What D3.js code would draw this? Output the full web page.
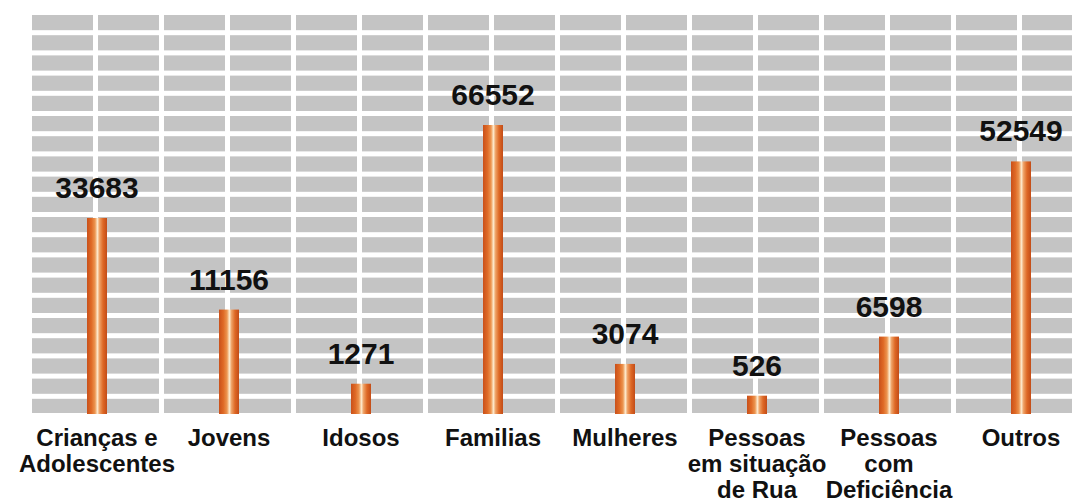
<!DOCTYPE html>
<html>
<head>
<meta charset="utf-8">
<script src="https://cdn.jsdelivr.net/npm/d3@7"></script>
<style>
  body { margin: 0; background: #fff; }
  svg { display: block; }
</style>
</head>
<body>
<script>
let categories = ['Crianças e\nAdolescentes', 'Jovens', 'Idosos', 'Familias', 'Mulheres',
                  'Pessoas\nem situação\nde Rua', 'Pessoas\ncom\nDeficiência', 'Outros'];
let values = [33683, 11156, 1271, 66552, 3074, 526, 6598, 52549];

let width = 1072, height = 504;
let baseline = 414;

let svg = d3.select('body')
  .append('svg')
  .attr('width', width)
  .attr('height', height);

let defs = svg.append('defs');
let grad = defs.append('linearGradient')
  .attr('id', 'cyl')
  .attr('x1', '0%').attr('x2', '100%')
  .attr('y1', '0%').attr('y2', '0%');
[[0, '#c9501a'], [0.22, '#df6a26'], [0.4, '#ec9550'], [0.52, '#fde9cc'],
 [0.63, '#eea064'], [0.8, '#de6825'], [1, '#c24c18']].forEach(s => {
  grad.append('stop').attr('offset', s[0]).attr('stop-color', s[1]);
});

// background grid (gray bricks)
let gridLeft = 32, gridTop = 15, gridBottom = 413;
let rowPitch = 20.2, gap = 5, colPitch = 66;

svg.append('rect')
  .attr('x', gridLeft)
  .attr('y', gridTop)
  .attr('width', width - gridLeft)
  .attr('height', gridBottom - gridTop)
  .attr('fill', '#c4c4c4');

svg.append('g')
  .selectAll('rect')
  .data(d3.range(19))
  .enter().append('rect')
  .attr('x', gridLeft)
  .attr('y', d => gridTop + 15.2 + d * rowPitch)
  .attr('width', width - gridLeft)
  .attr('height', gap)
  .attr('fill', '#fff');

svg.append('g')
  .selectAll('rect')
  .data(d3.range(15))
  .enter().append('rect')
  .attr('x', d => 93 + d * colPitch)
  .attr('y', gridTop)
  .attr('width', gap)
  .attr('height', gridBottom - gridTop)
  .attr('fill', '#fff');

let x = d3.scaleBand()
  .domain(categories)
  .range([31, 1087]);

let y = d3.scalePow()
  .exponent(0.57)
  .domain([0, d3.max(values)])
  .range([baseline, 125]);

let barW = 20;

let bars = svg.append('g')
  .selectAll('g')
  .data(categories.map((c, i) => ({ cat: c, value: values[i] })))
  .enter().append('g');

bars.append('rect')
  .attr('x', d => x(d.cat) + x.bandwidth() / 2 - barW / 2)
  .attr('y', d => y(d.value))
  .attr('width', barW)
  .attr('height', d => baseline - y(d.value))
  .attr('fill', 'url(#cyl)');

bars.append('text')
  .attr('x', d => x(d.cat) + x.bandwidth() / 2)
  .attr('y', d => y(d.value) - 20)
  .attr('text-anchor', 'middle')
  .style('font-family', 'Liberation Sans, Arial, sans-serif')
  .style('font-weight', 'bold')
  .style('font-size', '30px')
  .style('fill', '#111')
  .text(d => d.value);

let labels = svg.append('g')
  .style('font-family', 'Liberation Sans, Arial, sans-serif')
  .style('font-weight', 'bold')
  .style('font-size', '24px')
  .style('fill', '#111')
  .attr('text-anchor', 'middle')
  .selectAll('text')
  .data(categories)
  .enter().append('text')
  .attr('x', d => x(d) + x.bandwidth() / 2)
  .attr('y', 446);

labels.selectAll('tspan')
  .data(d => d.split('\n'))
  .enter().append('tspan')
  .attr('x', function() { return d3.select(this.parentNode).attr('x'); })
  .attr('dy', (d, i) => i === 0 ? 0 : 26)
  .text(d => d);
</script>
</body>
</html>
